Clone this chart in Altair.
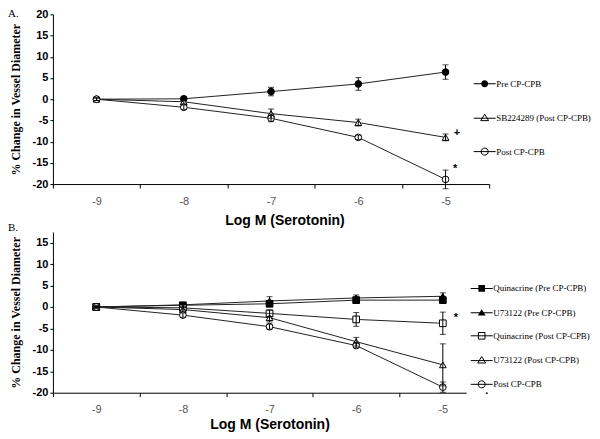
import altair as alt
import pandas as pd

# ---------------- data ----------------
log_m = [-9, -8, -7, -6, -5]

# Panel A
a_names = ["Pre CP-CPB", "SB224289 (Post CP-CPB)", "Post CP-CPB"]
a_pre = [0, 0.1, 1.8, 3.6, 6.4]
a_pre_err = [0.3, 0.3, 1.0, 1.5, 1.7]
a_sb = [0, -0.6, -3.4, -5.5, -9.0]
a_sb_err = [0.3, 0.5, 1.1, 0.8, 0.8]
a_post = [0, -1.9, -4.5, -9.0, -18.9]
a_post_err = [0.3, 0.5, 0.8, 0.5, 2.2]

# Panel B
b_names = ["Quinacrine (Pre CP-CPB)", "U73122 (Pre CP-CPB)",
           "Quinacrine (Post CP-CPB)", "U73122 (Post CP-CPB)", "Post CP-CPB"]
b_quin_pre = [0, 0.4, 0.75, 1.6, 1.6]
b_quin_pre_err = [0.2, 0.4, 0.5, 0.7, 0.6]
b_u_pre = [0, 0.5, 1.4, 2.1, 2.5]
b_u_pre_err = [0.2, 0.5, 1.0, 0.7, 0.8]
b_quin_post = [0, -0.2, -1.5, -2.9, -3.8]
b_quin_post_err = [0.2, 0.5, 0.8, 1.6, 2.6]
b_u_post = [0, -0.6, -2.5, -8.1, -13.5]
b_u_post_err = [0.2, 0.5, 1.0, 1.0, 4.9]
b_post = [0, -1.9, -4.6, -9.0, -18.7]
b_post_err = [0.2, 0.5, 0.6, 0.5, 1.2]

# annotations (text, x, y) in data units
a_notes_text = ["+", "*"]
a_notes_x = [-4.87, -4.89]
a_notes_y = [-7.9, -16.4]
b_notes_text = ["*", "·"]
b_notes_x = [-4.85, -4.49]
b_notes_y = [-2.5, -20.3]

# ---------------- styles ----------------
CIRCLE = "circle"
TRI = "triangle-up"
SQUARE = "square"
# stroke-only legend glyphs (open markers with line stub)
O_CIRCLE = "M-1,0L1,0M0.32,0A0.32,0.32,0,1,1,-0.32,0A0.32,0.32,0,1,1,0.32,0Z"
O_TRI = "M-1,0.05L1,0.05M0,-0.32L0.36,0.27L-0.36,0.27Z"
O_SQUARE = "M-1,0L1,0M-0.3,-0.3L0.3,-0.3L0.3,0.3L-0.3,0.3Z"
# fill-only legend glyphs (filled markers with thin bar stub)
BAR = "M-1,-0.045L1,-0.045L1,0.045L-1,0.045Z"
F_CIRCLE = BAR + "M0.32,0A0.32,0.32,0,1,1,-0.32,0A0.32,0.32,0,1,1,0.32,0Z"
F_TRI = BAR + "M0,-0.32L0.36,0.27L-0.36,0.27Z"
F_SQUARE = BAR + "M-0.3,-0.3L0.3,-0.3L0.3,0.3L-0.3,0.3Z"


def make_df(names, vals, errs):
    rows = []
    for name, v, e in zip(names, vals, errs):
        for x, vv, ee in zip(log_m, v, e):
            rows.append({"x": x, "series": name, "y": vv,
                         "lo": vv - ee, "hi": vv + ee})
    return pd.DataFrame(rows)


def legend_def(x, y, rowpad):
    return alt.Legend(
        orient="none", legendX=x, legendY=y, title=None,
        symbolSize=484, symbolStrokeColor="black", symbolStrokeWidth=1,
        labelFont="Liberation Serif", labelFontSize=9, labelColor="black",
        labelOffset=0, rowPadding=rowpad, padding=0, symbolOpacity=1,
    )


def panel(df, names, shapes, fills, leg_groups, ydom, yvals, xdom, xvals,
          w, h, title_x, title_y, letter, letter_y, notes_df):
    xscale = alt.Scale(domain=xdom, nice=False, zero=False)
    yscale = alt.Scale(domain=ydom, nice=False, zero=False)
    xaxis = alt.Axis(
        values=xvals,
        labelExpr="datum.value % 1 == 0 ? '-' + abs(datum.value) : ''",
        tickOpacity={"condition": {"test": "datum.value % 1 == 0", "value": 0},
                     "value": 1},
        tickSize=4, labelPadding=7, labelFont="Liberation Sans",
        labelFontSize=11, labelColor="#555", grid=False,
        title="Log M (Serotonin)", titleFont="Liberation Sans",
        titleFontSize=14, titleFontWeight="bold", titleColor="black",
        titleX=title_x, titleY=title_y, titleAlign="center",
        titleBaseline="top",
    )
    yaxis = alt.Axis(
        values=yvals,
        labelExpr="datum.value < 0 ? '-' + abs(datum.value) : datum.value + ''",
        tickSize=3, labelPadding=2, labelFont="Liberation Sans",
        labelFontSize=11, labelFontWeight="bold", labelColor="black",
        grid=False,
        title="% Change in Vessel Diameter", titleFont="Liberation Serif",
        titleFontSize=12, titleFontWeight="bold", titleColor="black",
        titleX=-30, titleY=h / 2, titleAngle=270, titleAlign="center",
        titleBaseline="bottom",
    )
    X = alt.X("x:Q", scale=xscale, axis=xaxis)
    Y = alt.Y("y:Q", scale=yscale, axis=yaxis)

    base = alt.Chart(df)
    lines = base.mark_line(color="#222", strokeWidth=1).encode(
        x=X, y=Y, detail="series:N")
    pts = base.mark_point(filled=False, opacity=1, stroke="black",
                          strokeWidth=1, size=45).encode(
        x=X, y=Y,
        shape=alt.Shape("series:N", scale=alt.Scale(domain=names, range=shapes),
                        legend=None),
        fill=alt.Fill("series:N", scale=alt.Scale(domain=names, range=fills),
                      legend=None),
    )
    eb = base.mark_errorbar(ticks=True, color="black", thickness=1,
                            size=6).encode(
        x=X, y=alt.Y("lo:Q", scale=yscale, axis=yaxis), y2="hi:Q")

    layers = [lines, pts, eb]
    for filled, gnames, gpaths, lx, ly, rp in leg_groups:
        if filled:
            mk = base.transform_filter("false").mark_point(
                filled=True, color="black", opacity=1)
        else:
            mk = base.transform_filter("false").mark_point(
                filled=False, color="black", opacity=1, strokeWidth=1)
        layers.append(mk.encode(
            shape=alt.Shape("series:N",
                            scale=alt.Scale(domain=gnames, range=gpaths),
                            legend=legend_def(lx, ly, rp))))

    notes = alt.Chart(notes_df).mark_text(
        font="Liberation Sans", fontSize=11, fontWeight="bold",
        color="black", align="center", baseline="middle").encode(
        x=alt.X("x:Q", scale=xscale, axis=xaxis),
        y=alt.Y("y:Q", scale=yscale, axis=yaxis),
        text="t:N")
    let = alt.Chart(pd.DataFrame({"t": [letter]})).mark_text(
        font="Liberation Serif", fontSize=11, color="black",
        align="left", baseline="top").encode(
        text="t:N", x=alt.value(-45), y=alt.value(letter_y))
    layers += [notes, let]
    return alt.layer(*layers).resolve_scale(
        shape="independent", fill="independent").resolve_legend(
        shape="independent").properties(width=w, height=h)


df_a = make_df(a_names, [a_pre, a_sb, a_post], [a_pre_err, a_sb_err, a_post_err])
df_b = make_df(b_names, [b_quin_pre, b_u_pre, b_quin_post, b_u_post, b_post],
               [b_quin_pre_err, b_u_pre_err, b_quin_post_err, b_u_post_err,
                b_post_err])
notes_a = pd.DataFrame({"t": a_notes_text, "x": a_notes_x, "y": a_notes_y})
notes_b = pd.DataFrame({"t": b_notes_text, "x": b_notes_x, "y": b_notes_y})

xv_a = [-9.5 + 0.5 * i for i in range(11)]
xv_b = [-9.5 + 0.5 * i for i in range(10)]

leg_a = [
    (True, a_names[:1], [F_CIRCLE], 421, 58, 17),
    (False, a_names[1:], [O_TRI, O_CIRCLE], 421, 92, 17),
]
leg_b = [
    (True, b_names[:2], [F_SQUARE, F_TRI], 418, 45, 7.3),
    (False, b_names[2:], [O_SQUARE, O_TRI, O_CIRCLE], 418, 92.5, 7.3),
]

chart_a = panel(df_a, a_names, [CIRCLE, TRI, CIRCLE],
                ["black", "white", "white"], leg_a,
                [-20, 20], list(range(-20, 21, 5)), [-9.5, -4.5], xv_a,
                437, 170, 232, 30, "A.", -6, notes_a)
chart_b = panel(df_b, b_names, [SQUARE, TRI, SQUARE, TRI, CIRCLE],
                ["black", "black", "white", "white", "white"], leg_b,
                [-20, 17.5], list(range(-20, 16, 5)), [-9.5, -4.73], xv_b,
                414, 161, 217, 25, "B.", -10, notes_b)

chart = alt.vconcat(chart_a, chart_b, spacing=48, bounds="flush").resolve_scale(
    shape="independent", fill="independent", x="independent", y="independent"
).resolve_legend(shape="independent", fill="independent").configure_view(
    stroke=None
).configure_axis(
    domainColor="black", tickColor="black", domainWidth=1, tickWidth=1
).properties(padding=0, background="white")

chart.save("out.html", embed_options={"renderer": "svg", "actions": False})
